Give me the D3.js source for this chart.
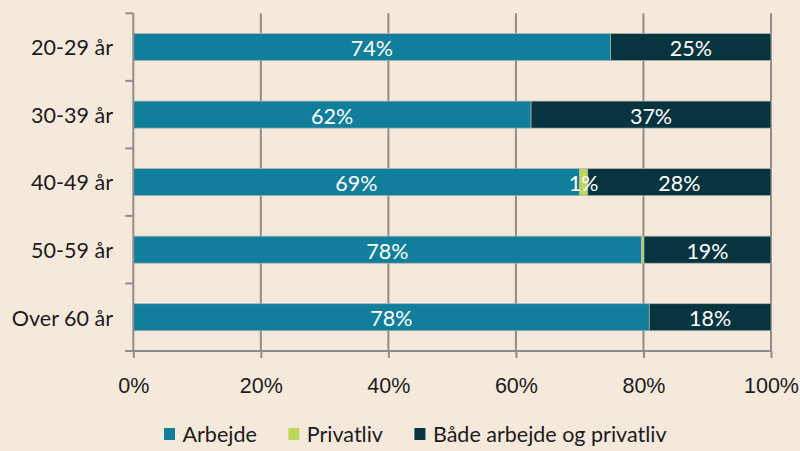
<!DOCTYPE html>
<meta charset="utf-8">
<style>
body { margin: 0; background: #f5e9dc; }
svg { display: block; font-family: Lato, "Open Sans", sans-serif; }
.grid line, .axis line, .axis path { stroke: #8f8d8b; stroke-width: 2px; }
.ylabel, .axis text, .legend text { font-size: 21.5px; fill: #1b1b1b; }
.barlabel { font-size: 21.5px; fill: #ffffff; text-anchor: middle; }
.seg { stroke: #aeb4b2; stroke-width: 0.7px; }
</style>
<svg width="800" height="451"></svg>
<script src="https://d3js.org/d3.v7.min.js"></script>
<script>

var categories = ["20-29 år", "30-39 år", "40-49 år", "50-59 år", "Over 60 år"];
var seriesNames = ["Arbejde", "Privatliv", "Både arbejde og privatliv"];
var arbejde   = [74.4, 62.0, 68.9, 77.6, 78.0];
var privatliv = [0, 0, 1.3, 0.4, 0];
var begge     = [25.0, 37.4, 28.3, 19.4, 18.4];
var xTicks = [0, 0.2, 0.4, 0.6, 0.8, 1];
var colors = ["#117e9b", "#bdd758", "#07343f"];

var svg = d3.select("svg");
var plotLeft = 133.3, plotRight = 771, plotTop = 13.3, plotBottom = 351;

var rows = categories.map(function(c, i) {
  return {cat: c, Arbejde: arbejde[i], Privatliv: privatliv[i], "Både arbejde og privatliv": begge[i]};
});

var stack = d3.stack().keys(seriesNames).offset(d3.stackOffsetExpand);
var layers = stack(rows);

var x = d3.scaleLinear().domain([0, 1]).range([plotLeft, plotRight]);
var y = d3.scaleBand().domain(categories).range([plotTop, plotBottom])
    .paddingInner(0.6).paddingOuter(0.3);

// gridlines (behind bars)
svg.append("g").attr("class", "grid")
  .selectAll("line")
  .data(xTicks.slice(1))
  .enter().append("line")
    .attr("x1", function(d) { return x(d); })
    .attr("x2", function(d) { return x(d); })
    .attr("y1", plotTop)
    .attr("y2", plotBottom);

// bars
var layer = svg.append("g").selectAll("g")
  .data(layers)
  .enter().append("g")
    .attr("fill", function(d, i) { return colors[i]; });

layer.selectAll("rect")
  .data(function(d) { return d; })
  .enter().append("rect")
    .attr("class", "seg")
    .attr("x", function(d) { return x(d[0]); })
    .attr("y", function(d) { return y(d.data.cat); })
    .attr("width", function(d) { return x(d[1]) - x(d[0]); })
    .attr("height", y.bandwidth());

// value labels
layers.forEach(function(l) {
  svg.append("g").selectAll("text")
    .data(l.filter(function(d) { return d.data[l.key] >= 0.5; }))
    .enter().append("text")
      .attr("class", "barlabel")
      .attr("x", function(d) { return (x(d[0]) + x(d[1])) / 2; })
      .attr("y", function(d) { return y(d.data.cat) + y.bandwidth() / 2 + 9; })
      .text(function(d) { return Math.round(d.data[l.key]) + "%"; });
});

// x axis
var xAxis = svg.append("g").attr("class", "axis")
    .attr("transform", "translate(0," + plotBottom + ")")
    .call(d3.axisBottom(x).tickValues(xTicks).tickFormat(d3.format(".0%")).tickSize(7).tickSizeOuter(0));
xAxis.select(".domain").remove();
xAxis.selectAll("text").attr("y", 42.3).attr("dy", null).attr("fill", "#1b1b1b");
xAxis.append("line").attr("x1", plotLeft - 8).attr("x2", plotRight).attr("y1", 0).attr("y2", 0);

// y axis
var yAxis = svg.append("g").attr("class", "axis");
yAxis.append("line").attr("x1", plotLeft).attr("x2", plotLeft).attr("y1", plotTop).attr("y2", plotBottom);
yAxis.selectAll(".tk")
  .data(d3.range(categories.length + 1))
  .enter().append("line")
    .attr("x1", plotLeft - 8).attr("x2", plotLeft)
    .attr("y1", function(k) { return plotTop + k * y.step(); })
    .attr("y2", function(k) { return plotTop + k * y.step(); });

svg.append("g").selectAll("text")
  .data(categories)
  .enter().append("text")
    .attr("class", "ylabel")
    .attr("text-anchor", "end")
    .attr("x", 113)
    .attr("y", function(d) { return y(d) + y.bandwidth() / 2 + 8.3; })
    .text(function(d) { return d; });

// legend
var legend = svg.append("g").attr("class", "legend");
var lx = 164;
seriesNames.forEach(function(name, i) {
  legend.append("rect")
    .attr("x", lx).attr("y", 428).attr("width", 11).attr("height", 12)
    .attr("fill", colors[i]);
  var t = legend.append("text")
    .attr("x", lx + 18.5).attr("y", 442.3)
    .text(name);
  lx += 18.5 + t.node().getComputedTextLength() + 31.5;
});

</script>
